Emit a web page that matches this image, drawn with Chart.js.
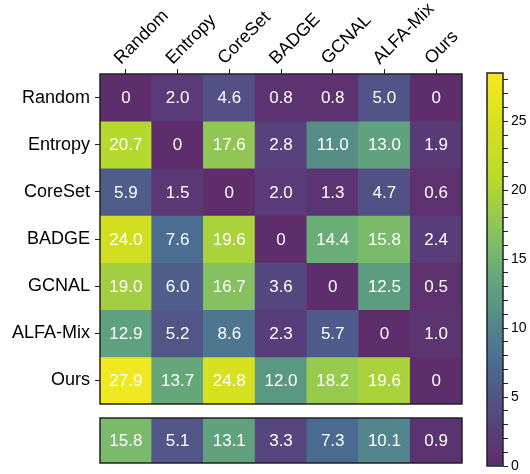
<!DOCTYPE html>
<html>
<head>
<meta charset="utf-8">
<script src="https://cdn.jsdelivr.net/npm/chart.js@4/dist/chart.umd.min.js"></script>
<style>
    html, body { margin: 0; padding: 0; background: #fff; }
    #wrap { position: relative; width: 530px; height: 474px; }
    .box { position: absolute; }
</style>
</head>
<body>
<div id="wrap">
    <div class="box" style="left:0;top:0;width:470px;height:410px"><canvas id="heat"></canvas></div>
    <div class="box" style="left:0;top:410px;width:470px;height:64px"><canvas id="avg"></canvas></div>
    <div class="box" style="left:470px;top:0;width:60px;height:474px"><canvas id="cbar"></canvas></div>
</div>
<script>
// 方法名（行和列相同）
const methods = ['Random', 'Entropy', 'CoreSet', 'BADGE', 'GCNAL', 'ALFA-Mix', 'Ours'];

// 每一行的数值
const rowRandom  = [0, 2.0, 4.6, 0.8, 0.8, 5.0, 0];
const rowEntropy = [20.7, 0, 17.6, 2.8, 11.0, 13.0, 1.9];
const rowCoreSet = [5.9, 1.5, 0, 2.0, 1.3, 4.7, 0.6];
const rowBADGE   = [24.0, 7.6, 19.6, 0, 14.4, 15.8, 2.4];
const rowGCNAL   = [19.0, 6.0, 16.7, 3.6, 0, 12.5, 0.5];
const rowALFAMix = [12.9, 5.2, 8.6, 2.3, 5.7, 0, 1.0];
const rowOurs    = [27.9, 13.7, 24.8, 12.0, 18.2, 19.6, 0];
const matrixRows = [rowRandom, rowEntropy, rowCoreSet, rowBADGE, rowGCNAL, rowALFAMix, rowOurs];

// 底部平均行
const avgRow = [15.8, 5.1, 13.1, 3.3, 7.3, 10.1, 0.9];

// 色条范围和刻度
const cbarMax = 28.5;
const cbarLabels = [0, 5, 10, 15, 20, 25];

const FONT = '"Liberation Sans", Arial, Helvetica, sans-serif';
const FRAME = '#222';

// 颜色映射（浅色 viridis）
const cmapStops = [
    [0, [94, 45, 107]],
    [2, [90, 58, 120]],
    [4.6, [82, 80, 133]],
    [7.5, [75, 108, 145]],
    [10, [82, 132, 140]],
    [12.5, [92, 157, 128]],
    [14.5, [108, 174, 118]],
    [16.5, [130, 192, 100]],
    [19, [163, 206, 66]],
    [21, [185, 219, 42]],
    [24, [210, 223, 32]],
    [28.5, [245, 233, 32]]
];

function colorFor(v) {
    for (let i = 1; i < cmapStops.length; i++) {
        const [v0, c0] = cmapStops[i - 1];
        const [v1, c1] = cmapStops[i];
        if (v <= v1) {
            const t = Math.max(0, (v - v0) / (v1 - v0));
            const c = c0.map((x, k) => Math.round(x + (c1[k] - x) * t));
            return `rgb(${c[0]},${c[1]},${c[2]})`;
        }
    }
    const c = cmapStops[cmapStops.length - 1][1];
    return `rgb(${c[0]},${c[1]},${c[2]})`;
}

function fmt(v) {
    return v === 0 ? '0' : v.toFixed(1);
}

// 单元格文字和外框
const cellText = {
    id: 'cellText',
    afterDatasetsDraw(chart) {
        const ctx = chart.ctx;
        ctx.save();
        ctx.fillStyle = '#fff';
        ctx.font = '17px ' + FONT;
        ctx.textAlign = 'center';
        ctx.textBaseline = 'middle';
        chart.data.datasets.forEach((ds, di) => {
            if (!ds.values) return;
            chart.getDatasetMeta(di).data.forEach((bar, i) => {
                ctx.fillText(fmt(ds.values[i]), bar.x, (bar.y + bar.base) / 2 + 1);
            });
        });
        const a = chart.chartArea;
        ctx.strokeStyle = FRAME;
        ctx.lineWidth = 1.5;
        ctx.strokeRect(a.left, a.top, a.right - a.left, a.bottom - a.top);
        ctx.restore();
    }
};

const baseOpts = {
    responsive: true,
    maintainAspectRatio: false,
    animation: false,
    plugins: { legend: { display: false }, tooltip: { enabled: false } }
};

// 主热力图
new Chart(document.getElementById('heat'), {
    type: 'bar',
    data: {
        labels: methods,
        datasets: matrixRows.map((row, r) => ({
            data: row.map(() => [r, r + 1]),
            values: row,
            backgroundColor: row.map(colorFor),
            borderWidth: 0,
            barPercentage: 1,
            categoryPercentage: 1,
            grouped: false
        }))
    },
    options: {
        ...baseOpts,
        layout: { padding: { left: 0, right: 8, top: 0, bottom: 6 } },
        scales: {
            x: {
                position: 'top',
                grid: { offset: false, drawOnChartArea: false, tickLength: 5, color: FRAME },
                border: { display: false },
                ticks: {
                    color: '#000',
                    font: { size: 18, family: FONT },
                    minRotation: 45,
                    maxRotation: 45,
                    padding: 0,
                    labelOffset: 7,
                    autoSkip: false
                },
                afterFit(scale) {
                    scale.height = 74;
                    scale.paddingLeft = 0;
                    scale.paddingRight = 0;
                }
            },
            y: {
                min: 0,
                max: 7,
                reverse: true,
                grid: { drawOnChartArea: false, tickLength: 5, color: FRAME },
                border: { display: false },
                ticks: {
                    color: '#000',
                    font: { size: 18, family: FONT },
                    padding: 5,
                    autoSkip: false,
                    callback: (v, i) => methods[i]
                },
                afterBuildTicks(scale) {
                    scale.ticks = methods.map((m, i) => ({ value: i + 0.5 }));
                },
                afterFit(scale) {
                    scale.width = 100;
                    scale.paddingTop = 0;
                    scale.paddingBottom = 0;
                }
            }
        }
    },
    plugins: [cellText]
});

// 平均行
new Chart(document.getElementById('avg'), {
    type: 'bar',
    data: {
        labels: methods,
        datasets: [{
            data: avgRow.map(() => [0, 1]),
            values: avgRow,
            backgroundColor: avgRow.map(colorFor),
            borderWidth: 0,
            barPercentage: 1,
            categoryPercentage: 1
        }]
    },
    options: {
        ...baseOpts,
        layout: { padding: { left: 100, right: 8, top: 8, bottom: 11 } },
        scales: {
            x: { display: false },
            y: { display: false, min: 0, max: 1 }
        }
    },
    plugins: [cellText]
});

// 色条
new Chart(document.getElementById('cbar'), {
    type: 'bar',
    data: {
        labels: [''],
        datasets: [{
            data: [[0, cbarMax]],
            borderWidth: 0,
            barPercentage: 1,
            categoryPercentage: 1,
            backgroundColor(context) {
                const chart = context.chart;
                const a = chart.chartArea;
                if (!a) return null;
                const g = chart.ctx.createLinearGradient(0, a.bottom, 0, a.top);
                for (let k = 0; k <= 57; k++) {
                    const v = cbarMax * k / 57;
                    g.addColorStop(k / 57, colorFor(v));
                }
                return g;
            }
        }]
    },
    options: {
        ...baseOpts,
        layout: { padding: { left: 17, right: 0, top: 73, bottom: 8 } },
        scales: {
            x: { display: false },
            y: {
                position: 'right',
                min: 0,
                max: cbarMax,
                grid: { drawOnChartArea: false, tickLength: 5, color: FRAME },
                border: { display: false },
                ticks: {
                    stepSize: 1,
                    includeBounds: false,
                    autoSkip: false,
                    color: '#000',
                    padding: 3,
                    font: { size: 14, family: FONT },
                    callback: v => cbarLabels.includes(v) ? String(v) : ''
                },
                afterFit(scale) {
                    scale.width = 27;
                    scale.paddingTop = 0;
                    scale.paddingBottom = 0;
                }
            }
        }
    },
    plugins: [{
        id: 'cbarFrame',
        afterDatasetsDraw(chart) {
            const a = chart.chartArea;
            const ctx = chart.ctx;
            ctx.save();
            ctx.strokeStyle = FRAME;
            ctx.lineWidth = 1.5;
            ctx.strokeRect(a.left, a.top, a.right - a.left, a.bottom - a.top);
            ctx.restore();
        }
    }]
});
</script>
</body>
</html>
